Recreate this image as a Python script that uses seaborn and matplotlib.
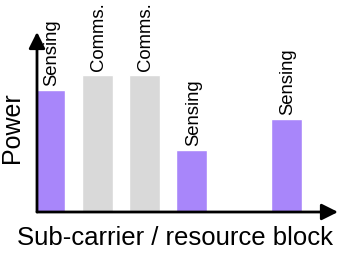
import matplotlib
matplotlib.use("Agg")
import matplotlib.pyplot as plt
import seaborn as sns
import pandas as pd

# slot index along the sub-carrier axis (slot 4 left empty)
slots = [0, 1, 2, 3, 5]
power = [122, 137, 137, 62, 93]
kinds = ["Sensing", "Comms.", "Comms.", "Sensing", "Sensing"]

colors = {"Sensing": "#A886FA", "Comms.": "#D9D9D9"}

sns.set_theme(style="white")
plt.rcParams["font.family"] = ["Liberation Sans", "DejaVu Sans"]

df = pd.DataFrame({"slot": slots, "power": power, "kind": kinds})

fig = plt.figure(figsize=(3.44, 2.54), dpi=100)
ax = fig.add_axes([37 / 344, 42 / 254, 301 / 344, 180 / 254])

sns.barplot(data=df, x="slot", y="power", hue="kind", palette=colors,
            native_scale=True, dodge=False, width=0.655, saturation=1,
            errorbar=None, legend=False, ax=ax)

ax.set_xlim(-0.275, 6.09)
ax.set_ylim(0, 180)

for s, p, k in zip(slots, power, kinds):
    ax.annotate(k, xy=(s, p), xytext=(1, 3), textcoords="offset points",
                rotation=90, ha="center", va="bottom", fontsize=13.3,
                color="black")

# axes drawn as arrows
for end in [(1, 0), (0, 1)]:
    ax.annotate("", xy=end, xytext=(0, 0), xycoords="axes fraction",
                arrowprops=dict(arrowstyle="-|>,head_length=0.7,head_width=0.35",
                                lw=2, color="black", shrinkA=0, shrinkB=0,
                                mutation_scale=14),
                annotation_clip=False)

for sp in ax.spines.values():
    sp.set_visible(False)
ax.set_xticks([])
ax.set_yticks([])

ax.set_xlabel("Sub-carrier / resource block", fontsize=18.5, color="black")
ax.xaxis.set_label_coords(0.457, -0.183)
ax.xaxis.label.set_va("baseline")
ax.set_ylabel("Power", fontsize=18, color="black")
ax.yaxis.set_label_coords(-0.083, 0.467)
ax.yaxis.label.set_va("center")

fig.savefig("out.png", dpi=100)
